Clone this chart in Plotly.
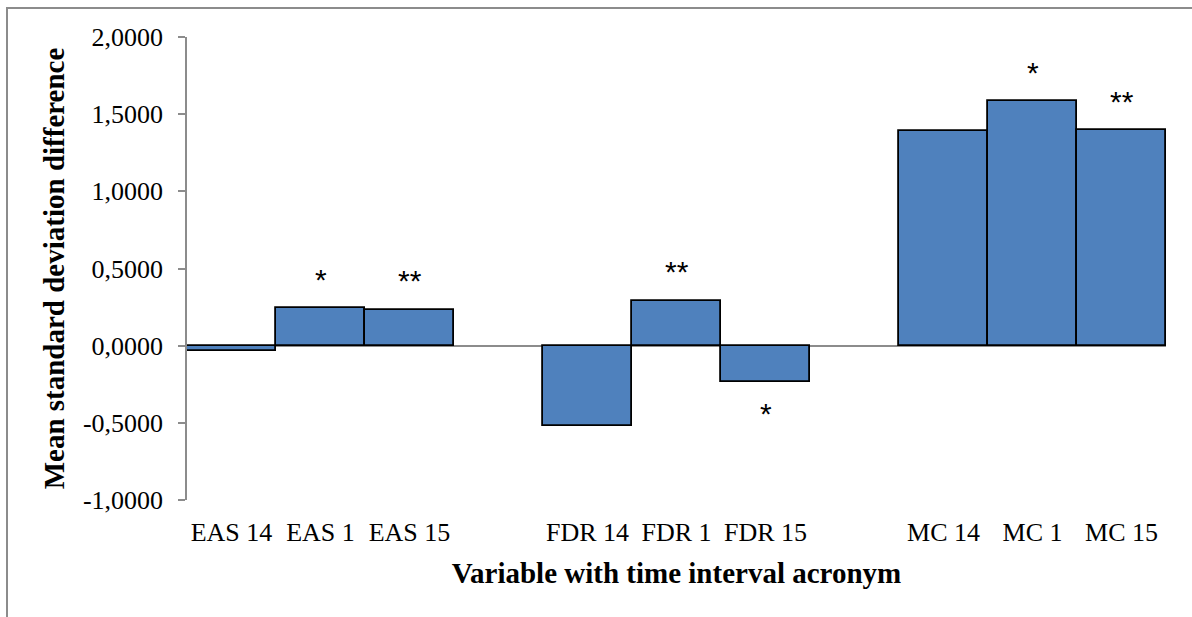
import plotly.graph_objects as go

categories = ["EAS 14", "EAS 1", "EAS 15", "", "FDR 14", "FDR 1", "FDR 15", "", "MC 14", "MC 1", "MC 15"]
values = [-0.035, 0.244, 0.232, None, -0.52, 0.29, -0.235, None, 1.39, 1.585, 1.395]
stars = ["", "*", "**", "", "", "**", "*", "", "", "*", "**"]
y_tickvals = [2.0, 1.5, 1.0, 0.5, 0.0, -0.5, -1.0]
y_ticktext = ["2,0000", "1,5000", "1,0000", "0,5000", "0,0000", "-0,5000", "-1,0000"]

xpos = list(range(len(categories)))
serif = "Liberation Serif, Times New Roman, serif"

fig = go.Figure()
fig.add_trace(go.Bar(
    x=xpos, y=values, width=1.0,
    marker=dict(color="#4F81BD", line=dict(color="black", width=1.8)),
    hoverinfo="skip",
))

annotations = []
for i, (s, v) in enumerate(zip(stars, values)):
    if not s or v is None:
        continue
    up = v >= 0
    annotations.append(dict(
        x=i, y=v, xref="x", yref="y", text=s, showarrow=False,
        yshift=29 if up else -32,
        font=dict(family="Liberation Sans, Arial, sans-serif", size=30, color="black"),
    ))

fig.update_layout(
    width=1192, height=617,
    margin=dict(l=187, r=26, t=37, b=117),
    paper_bgcolor="white", plot_bgcolor="white",
    showlegend=False,
    bargap=0,
    annotations=annotations,
    xaxis=dict(
        range=[-0.5, len(categories) - 0.5],
        tickvals=xpos, ticktext=categories,
        showline=False, showgrid=False, zeroline=False, ticks="",
        ticklabelstandoff=14,
        tickfont=dict(family=serif, size=26, color="black"),
        title=dict(text="<b>Variable with time interval acronym</b>",
                   font=dict(family=serif, size=29, color="black"), standoff=16),
    ),
    yaxis=dict(
        range=[-1.0, 2.0],
        tickvals=y_tickvals, ticktext=y_ticktext,
        showline=True, linecolor="#8c8c8c", linewidth=1.5,
        ticks="outside", ticklen=7, tickcolor="#8c8c8c", tickwidth=1.5,
        ticklabelstandoff=10,
        showgrid=False,
        zeroline=True, zerolinecolor="#8c8c8c", zerolinewidth=1.8,
        tickfont=dict(family=serif, size=26, color="black"),
        title=dict(text="<b>Mean standard deviation difference</b>",
                   font=dict(family=serif, size=29, color="black"), standoff=10),
    ),
    shapes=[dict(
        type="rect", xref="paper", yref="paper",
        x0=(7 - 187) / 979, x1=(1196 - 187) / 979,
        y0=(500 - 625) / 463, y1=(500 - 8) / 463,
        line=dict(color="#8c8c8c", width=2), fillcolor="rgba(0,0,0,0)", layer="below",
    )],
)

fig.write_html("out.html")
